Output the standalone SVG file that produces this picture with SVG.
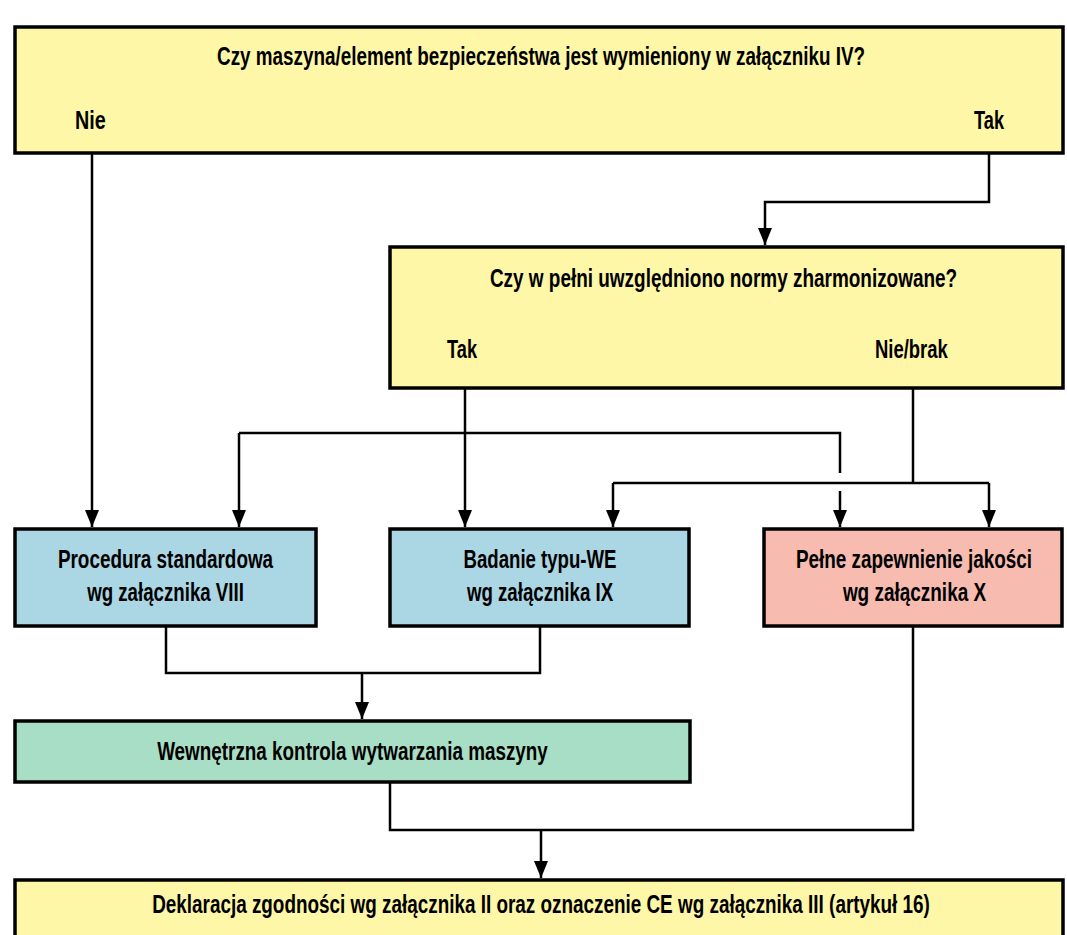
<svg xmlns="http://www.w3.org/2000/svg" width="1067" height="935" viewBox="0 0 1067 935">
<defs>
<marker id="arr" markerUnits="userSpaceOnUse" markerWidth="18" markerHeight="14" refX="17" refY="7" orient="auto">
<path d="M0,0 L17,7 L0,14 z" fill="#000"/>
</marker>
<style>
.box{stroke:#000;stroke-width:3.5}
.y{fill:#FFF7A8}
.b{fill:#ABD6E3}
.p{fill:#F7BBB0}
.g{fill:#A8DEC5}
text{font-family:"Liberation Sans",Arial,sans-serif;font-weight:bold;font-size:25px;fill:#000}
.c{text-anchor:middle}
.ln{fill:none;stroke:#000;stroke-width:2.5}
.ar{fill:none;stroke:#000;stroke-width:2.5;marker-end:url(#arr)}
</style>
</defs>
<rect width="1067" height="935" fill="#fff"/>

<g id="connectors">
<path class="ar" d="M92,153 V527"/>
<path class="ar" d="M989,153 V202 H765 V245"/>
<path class="ar" d="M465,388 V527"/>
<path class="ln" d="M913,388 V483"/>
<path class="ln" d="M613,483 H989"/>
<path class="ar" d="M613,483 V527"/>
<path class="ar" d="M989,483 V527"/>
<path class="ln" d="M239,433 H840 V473"/>
<path class="ar" d="M239,433 V527"/>
<path class="ar" d="M840,491 V527"/>
<path class="ln" d="M166,626 V673 H540 V626"/>
<path class="ar" d="M362,673 V719"/>
<path class="ln" d="M390,782 V830 H913 V626"/>
<path class="ar" d="M541,830 V878"/>
</g>

<g id="q1">
<rect class="box y" x="15" y="27" width="1048" height="126"/>
<text class="c" transform="translate(541,65) scale(0.75,1)" textLength="864" lengthAdjust="spacingAndGlyphs">Czy maszyna/element bezpieczeństwa jest wymieniony w załączniku IV?</text>
<text transform="translate(75,129) scale(0.75,1)" textLength="41" lengthAdjust="spacingAndGlyphs">Nie</text>
<text transform="translate(974,129) scale(0.75,1)" textLength="40" lengthAdjust="spacingAndGlyphs">Tak</text>
</g>

<g id="q2">
<rect class="box y" x="390" y="247" width="673" height="141"/>
<text class="c" transform="translate(723.5,287) scale(0.75,1)" textLength="623" lengthAdjust="spacingAndGlyphs">Czy w pełni uwzględniono normy zharmonizowane?</text>
<text transform="translate(447,358) scale(0.75,1)" textLength="40" lengthAdjust="spacingAndGlyphs">Tak</text>
<text transform="translate(875,358) scale(0.75,1)" textLength="97" lengthAdjust="spacingAndGlyphs">Nie/brak</text>
</g>

<g id="viii">
<rect class="box b" x="15" y="529" width="301" height="97"/>
<text class="c" transform="translate(165.5,568) scale(0.75,1)" textLength="287" lengthAdjust="spacingAndGlyphs">Procedura standardowa</text>
<text class="c" transform="translate(165.5,601) scale(0.75,1)" textLength="209" lengthAdjust="spacingAndGlyphs">wg załącznika VIII</text>
</g>

<g id="ix">
<rect class="box b" x="390" y="529" width="299" height="97"/>
<text class="c" transform="translate(540,568) scale(0.75,1)" textLength="204" lengthAdjust="spacingAndGlyphs">Badanie typu-WE</text>
<text class="c" transform="translate(540,601) scale(0.75,1)" textLength="195" lengthAdjust="spacingAndGlyphs">wg załącznika IX</text>
</g>

<g id="x">
<rect class="box p" x="764" y="529" width="298" height="97"/>
<text class="c" transform="translate(914,568) scale(0.75,1)" textLength="315" lengthAdjust="spacingAndGlyphs">Pełne zapewnienie jakości</text>
<text class="c" transform="translate(914.5,601) scale(0.75,1)" textLength="191" lengthAdjust="spacingAndGlyphs">wg załącznika X</text>
</g>

<g id="internal">
<rect class="box g" x="15" y="721" width="675" height="61"/>
<text class="c" transform="translate(352.5,760) scale(0.75,1)" textLength="521" lengthAdjust="spacingAndGlyphs">Wewnętrzna kontrola wytwarzania maszyny</text>
</g>

<g id="decl">
<rect class="box y" x="15" y="880" width="1048" height="70"/>
<text class="c" transform="translate(541,913) scale(0.75,1)" textLength="1037" lengthAdjust="spacingAndGlyphs">Deklaracja zgodności wg załącznika II oraz oznaczenie CE wg załącznika III (artykuł 16)</text>
</g>
</svg>
